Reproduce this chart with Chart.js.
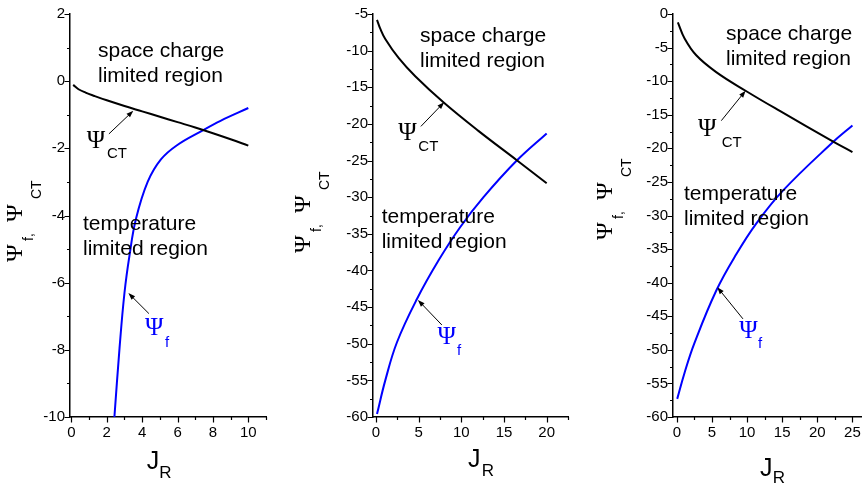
<!DOCTYPE html>
<html>
<head>
<meta charset="utf-8">
<script src="https://cdn.jsdelivr.net/npm/chart.js@4.4.0/dist/chart.umd.min.js"></script>
<style>
  body { margin: 0; background: #fff; width: 862px; height: 484px; overflow: hidden; position: relative; }
  canvas { position: absolute; top: 0; }
</style>
</head>
<body>
<canvas id="c1" style="left:0px" width="290" height="484"></canvas>
<canvas id="c2" style="left:290px" width="290" height="484"></canvas>
<canvas id="c3" style="left:580px" width="300" height="484"></canvas>
<script>
// left panel, J_R up to 10
const jrCt1 = [0.1, 0.4, 0.8, 1.3, 2, 3, 4, 5, 6, 7, 8, 9, 10];
const psiCt1 = [-0.11, -0.24, -0.34, -0.44, -0.57, -0.74, -0.9, -1.06, -1.22, -1.38, -1.55, -1.73, -1.92];
const jrF1 = [2.43, 2.72, 3.0, 3.28, 3.65, 4.31, 5.06, 5.99, 7.3, 8.43, 10];
const psiF1 = [-10, -7.95, -6.3, -5.2, -4.1, -3.0, -2.33, -1.9, -1.5, -1.18, -0.8];
const xMajor1 = [0, 2, 4, 6, 8, 10];
const yMajor1 = [2, 0, -2, -4, -6, -8, -10];

// middle panel, J_R up to 20
const jrCt2 = [0.12, 0.5, 1.09, 2.65, 4.6, 7.9, 12, 16.5, 20];
const psiCt2 = [-5.8, -7.0, -8.4, -11.0, -13.5, -17.05, -20.95, -24.95, -28.1];
const jrF2 = [0.12, 1.09, 2.46, 4.8, 7.32, 9.86, 12.6, 16.5, 20];
const psiF2 = [-59.6, -55.0, -49.8, -43.9, -38.65, -34.1, -30.0, -25.0, -21.3];
const xMajor2 = [0, 5, 10, 15, 20];
const yMajor2 = [-5, -10, -15, -20, -25, -30, -35, -40, -45, -50, -55, -60];

// right panel, J_R up to 25
const jrCt3 = [0.14, 1.1, 2.76, 5.6, 9.9, 14.6, 22.2, 25];
const psiCt3 = [-1.25, -3.65, -6.15, -8.65, -11.5, -14.4, -18.95, -20.55];
const jrF3 = [0.05, 1.1, 2.5, 5.6, 8.5, 11.3, 15.1, 22.2, 25];
const psiF3 = [-57.3, -53.4, -49.0, -41.2, -35.7, -31.2, -26.3, -19.1, -16.6];
const xMajor3 = [0, 5, 10, 15, 20, 25];
const yMajor3 = [0, -5, -10, -15, -20, -25, -30, -35, -40, -45, -50, -55, -60];

const SANS = "'Liberation Sans', Arial, sans-serif";
const SERIF = "'Liberation Serif', 'Times New Roman', serif";
const BLUE = '#0000ff';

const panels = [
  {
    id: 'c1', axisW: 70, padR: 24,
    x: { min: -0.08, max: 11, step: 1, major: xMajor1 },
    y: { min: -10, max: 2, step: 1, major: yMajor1 },
    ct: [jrCt1, psiCt1], f: [jrF1, psiF1],
    sc: [98, 57], tl: [83, 230],
    ctText: [86.7, 148, 107, 158], ctArrow: [2.12, -1.57, 3.5, -0.88],
    fText: [145, 335, 165, 346.7], fArrow: [4.38, -6.92, 3.22, -6.31],
    yTitle: [22, 262], xTitle: [146.7, 469, 159.3, 478]
  },
  {
    id: 'c2', axisW: 83, padR: 12,
    x: { min: -0.35, max: 22.5, step: 2.5, major: xMajor2 },
    y: { min: -60, max: -5, step: 2.5, major: yMajor2 },
    ct: [jrCt2, psiCt2], f: [jrF2, psiF2],
    sc: [130, 41.7], tl: [91.7, 223.3],
    ctText: [108.3, 140, 128.3, 151], ctArrow: [5.26, -20.34, 7.99, -17.04],
    fText: [147.5, 344, 167, 354.5], fArrow: [7.72, -47.44, 4.91, -44.03],
    yTitle: [20, 253], xTitle: [178, 467, 191.7, 476]
  },
  {
    id: 'c3', axisW: 93, padR: 10,
    x: { min: -0.55, max: 27.5, step: 2.5, major: xMajor3 },
    y: { min: -60, max: 0, step: 2.5, major: yMajor3 },
    ct: [jrCt3, psiCt3], f: [jrF3, psiF3],
    sc: [146, 40], tl: [104, 200],
    ctText: [118, 136, 141.7, 146.7], ctArrow: [6.33, -15.88, 9.79, -11.41],
    fText: [159.3, 338, 178, 348], fArrow: [9.41, -45.39, 5.76, -40.68],
    yTitle: [32, 240], xTitle: [180, 476, 192.7, 483]
  }
];

function isMajor(list, v) {
  return list.some(m => Math.abs(m - v) < 1e-6);
}

function points(xs, ys) {
  return xs.map((x, i) => ({ x: x, y: ys[i] }));
}

function drawArrow(ctx, x0, y0, x1, y1) {
  const a = Math.atan2(y1 - y0, x1 - x0);
  const c = Math.cos(a), s = Math.sin(a);
  ctx.beginPath();
  ctx.moveTo(x0, y0);
  ctx.lineTo(x1 - 4 * c, y1 - 4 * s);
  ctx.stroke();
  ctx.beginPath();
  ctx.moveTo(x1, y1);
  ctx.lineTo(x1 - 7 * c + 2.5 * s, y1 - 7 * s - 2.5 * c);
  ctx.lineTo(x1 - 7 * c - 2.5 * s, y1 - 7 * s + 2.5 * c);
  ctx.closePath();
  ctx.fill();
}

// major and minor tick marks, pointing outward like in Origin
const tickMarks = {
  id: 'tickMarks',
  afterDraw(chart, args, opts) {
    const ctx = chart.ctx;
    const xs = chart.scales.x, ys = chart.scales.y;
    ctx.save();
    ctx.strokeStyle = '#000';
    ctx.lineWidth = 1.2;
    ctx.beginPath();
    xs.ticks.forEach(t => {
      const px = Math.round(xs.getPixelForValue(t.value)) + 0.5;
      const len = isMajor(opts.xMajor, t.value) ? 5.5 : 3;
      ctx.moveTo(px, xs.top);
      ctx.lineTo(px, xs.top + len);
    });
    ys.ticks.forEach(t => {
      const py = Math.round(ys.getPixelForValue(t.value)) + 0.5;
      const len = isMajor(opts.yMajor, t.value) ? 5.5 : 3;
      ctx.moveTo(ys.right, py);
      ctx.lineTo(ys.right - len, py);
    });
    ctx.stroke();
    ctx.restore();
  }
};

// region texts, curve labels with arrows and the axis titles
const notes = {
  id: 'notes',
  afterDraw(chart, args, p) {
    const ctx = chart.ctx;
    const xs = chart.scales.x, ys = chart.scales.y;
    ctx.save();
    ctx.textBaseline = 'alphabetic';
    ctx.textAlign = 'left';
    ctx.fillStyle = '#000';
    ctx.font = '21px ' + SANS;
    ctx.fillText('space charge', p.sc[0], p.sc[1]);
    ctx.fillText('limited region', p.sc[0], p.sc[1] + 25);
    ctx.fillText('temperature', p.tl[0], p.tl[1]);
    ctx.fillText('limited region', p.tl[0], p.tl[1] + 25);

    // Psi_CT label
    ctx.font = '25px ' + SERIF;
    ctx.fillText('\u03A8', p.ctText[0], p.ctText[1]);
    ctx.font = '15px ' + SANS;
    ctx.fillText('CT', p.ctText[2], p.ctText[3]);
    ctx.strokeStyle = '#000';
    ctx.lineWidth = 1;
    const a = p.ctArrow;
    drawArrow(ctx, xs.getPixelForValue(a[0]), ys.getPixelForValue(a[1]),
      xs.getPixelForValue(a[2]), ys.getPixelForValue(a[3]));

    // Psi_f label
    ctx.fillStyle = BLUE;
    ctx.font = '25px ' + SERIF;
    ctx.fillText('\u03A8', p.fText[0], p.fText[1]);
    ctx.font = '15px ' + SANS;
    ctx.fillText('f', p.fText[2], p.fText[3]);
    ctx.fillStyle = '#000';
    const b = p.fArrow;
    drawArrow(ctx, xs.getPixelForValue(b[0]), ys.getPixelForValue(b[1]),
      xs.getPixelForValue(b[2]), ys.getPixelForValue(b[3]));

    // x title J_R
    ctx.font = '25px ' + SANS;
    ctx.fillText('J', p.xTitle[0], p.xTitle[1]);
    ctx.font = '17px ' + SANS;
    ctx.fillText('R', p.xTitle[2], p.xTitle[3]);

    // y title Psi_f, Psi_CT, read bottom to top
    ctx.translate(p.yTitle[0], p.yTitle[1]);
    ctx.rotate(-Math.PI / 2);
    ctx.font = '24px ' + SERIF;
    ctx.fillText('\u03A8', 0, 0);
    ctx.fillText('\u03A8', 40, 0);
    ctx.font = '14px ' + SANS;
    ctx.fillText('f,', 21, 11);
    ctx.fillText('CT', 63, 19);
    ctx.restore();
  }
};

function makePanel(p) {
  const ctx = document.getElementById(p.id);
  new Chart(ctx, {
    type: 'line',
    data: {
      datasets: [
        {
          data: points(p.ct[0], p.ct[1]),
          borderColor: '#000', borderWidth: 2, pointRadius: 0,
          tension: 0.4, fill: false
        },
        {
          data: points(p.f[0], p.f[1]),
          borderColor: BLUE, borderWidth: 2, pointRadius: 0,
          tension: 0.4, fill: false
        }
      ]
    },
    options: {
      responsive: false,
      animation: false,
      layout: { padding: { left: 0, top: 13, right: p.padR, bottom: 0 } },
      plugins: {
        legend: { display: false },
        tooltip: { enabled: false },
        tickMarks: { xMajor: p.x.major, yMajor: p.y.major },
        notes: p
      },
      scales: {
        x: {
          type: 'linear',
          min: p.x.min, max: p.x.max,
          grid: { drawOnChartArea: false, drawTicks: false },
          border: { color: '#000', width: 1.5 },
          afterFit: s => { s.height = 67; },
          ticks: {
            stepSize: p.x.step, includeBounds: false, autoSkip: false, maxRotation: 0,
            padding: 7, color: '#000', font: { family: SANS, size: 15 },
            callback: v => isMajor(p.x.major, v) ? String(v) : ''
          }
        },
        y: {
          min: p.y.min, max: p.y.max,
          grid: { drawOnChartArea: false, drawTicks: false },
          border: { color: '#000', width: 1.5 },
          afterFit: s => { s.width = p.axisW; },
          ticks: {
            stepSize: p.y.step, autoSkip: false,
            padding: 5, color: '#000', font: { family: SANS, size: 15 },
            callback: v => isMajor(p.y.major, v) ? String(v) : ''
          }
        }
      }
    },
    plugins: [tickMarks, notes]
  });
}

panels.forEach(makePanel);
</script>
</body>
</html>
